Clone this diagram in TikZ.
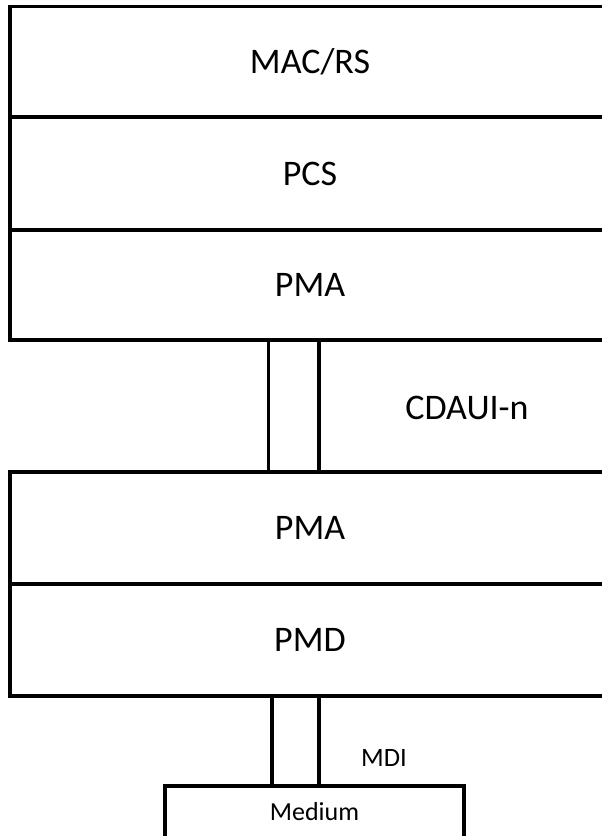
\documentclass[tikz,border=0pt]{standalone}
\usepackage{fontspec}
\setmainfont{Carlito}
\begin{document}
\begin{tikzpicture}[x=1pt,y=-1pt,
  layer/.style={draw=black, line width=3.5pt, rectangle, inner sep=0pt,
    minimum width=600pt, font=\fontsize{36}{40}\selectfont,
    text height=23.2pt, text depth=0pt},
  stub/.style={draw=black, line width=3.5pt, rectangle, inner sep=0pt},
  biglabel/.style={font=\fontsize{36}{40}\selectfont, inner sep=0pt,
    text height=23.2pt, text depth=0pt},
  smalllabel/.style={font=\fontsize{26.5}{30}\selectfont, inner sep=0pt,
    text height=17pt, text depth=0pt}]
\useasboundingbox (0,0) rectangle (602,836);
\clip (0,0) rectangle (602,836);
\node[layer, minimum height=110.5pt] (mac) at (310,61.75) {MAC/RS};
\node[layer, minimum height=113pt] (pcs) at (310,173.5) {PCS};
\node[layer, minimum height=110pt] (pmaA) at (310,285) {PMA};
\node[stub, minimum width=50.5pt, minimum height=132pt] (cdaui) at (293.75,406) {};
\node[layer, minimum height=112pt] (pmaB) at (310,528) {PMA};
\node[layer, minimum height=112pt] (pmd) at (310,640) {PMD};
\node[stub, minimum width=47pt, minimum height=90pt] (mdi) at (295.5,741) {};
\node[stub, minimum width=299pt, minimum height=52pt, font=\fontsize{26}{30}\selectfont,
  text height=17pt, text depth=0pt] (medium) at (314.5,812) {Medium};
\node[biglabel] (cdauilbl) at (467,408) {CDAUI-n};
\node[smalllabel] (mdilbl) at (384,758) {MDI};
\end{tikzpicture}
\end{document}
